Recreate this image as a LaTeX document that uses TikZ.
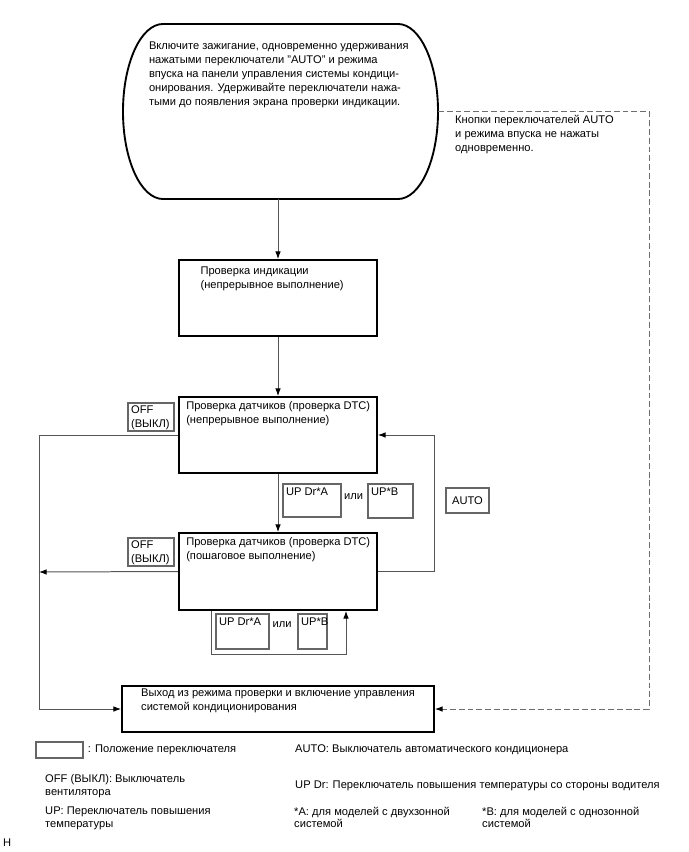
\documentclass[tikz,border=0pt]{standalone}
\usepackage{fontspec}
\setmainfont{Liberation Sans}
\usetikzlibrary{arrows.meta, positioning, calc}
\definecolor{flowline}{HTML}{555555}
\definecolor{keyline}{HTML}{666666}
\definecolor{dashline}{HTML}{6E6E6E}
\newcommand{\flowfont}{\fontsize{9.5}{12}\selectfont}
\newcommand{\legfont}{\fontsize{9.5}{11}\selectfont}
\tikzset{
  stepbox/.style={draw=black, line width=1.6pt, inner sep=0pt,
                  minimum width=5.94cm, minimum height=2.28cm},
  steptext/.style={anchor=north west, align=left, inner sep=0pt},
  keybox/.style={draw=keyline, line width=1.1pt, inner sep=0pt},
  keytext/.style={anchor=north west, align=left, inner sep=0pt, xshift=3pt, yshift=-4pt},
  legtext/.style={anchor=north west, align=left, inner sep=0pt, font=\legfont},
  arr/.style={-{Latex[length=6.5pt,width=4.8pt,color=black]}, line width=0.85pt, flowline},
  darr/.style={-{Latex[length=6.5pt,width=4.8pt,color=black]}, line width=0.85pt, dashline,
               dash pattern=on 5pt off 2.5pt},
}

\begin{document}
\begin{tikzpicture}[x=0.03cm, y=-0.03cm, every node/.style={font=\flowfont}]
  \useasboundingbox (0,0) rectangle (688,852);

  % start of the check
  \node[minimum width=9.45cm, minimum height=5.25cm, inner sep=0pt, outer sep=0pt,
        label={[steptext, xshift=22pt, yshift=-15pt]north west:Включите зажигание, одновременно удерживания\\нажатыми переключатели "AUTO" и режима\\впуска на панели управления системы кондици-\\онирования. Удерживайте переключатели нажа-\\тыми до появления экрана проверки индикации.}] (start) at (280.5,111.5) {};
  \draw[line width=1.6pt] ([xshift=1.2cm]start.north west) -- ([xshift=-1.2cm]start.north east)
    arc[start angle=90, end angle=-90, x radius=1.2cm, y radius=2.625cm]
    -- ([xshift=1.2cm]start.south west)
    arc[start angle=270, end angle=90, x radius=1.2cm, y radius=2.625cm] -- cycle;

  \node[align=left, anchor=north west, inner sep=0pt] (note) at (455,115) {Кнопки переключателей AUTO\\и режима впуска не нажаты\\одновременно.};

  % check steps
  \node[stepbox, label={[steptext, xshift=19pt, yshift=-6.4pt]north west:Проверка индикации\\(непрерывное выполнение)}] (check) at (278,298) {};
  \node[stepbox, label={[steptext, xshift=6.8pt, yshift=-4.7pt]north west:Проверка датчиков (проверка DTC)\\(непрерывное выполнение)}] (sensA) at (278,435) {};
  \node[stepbox, minimum height=2.31cm, label={[steptext, xshift=6.8pt, yshift=-4.7pt]north west:Проверка датчиков (проверка DTC)\\(пошаговое выполнение)}] (sensB) at (278,571.5) {};
  \node[stepbox, minimum width=9.36cm, minimum height=1.38cm, label={[steptext, xshift=17pt, yshift=-3pt]north west:Выход из режима проверки и включение управления\\системой кондиционирования}] (exit) at (278,709) {};

  % switches
  \node[keybox, minimum width=1.38cm, minimum height=0.84cm, label={[keytext, yshift=1.5pt]north west:OFF\\(ВЫКЛ)}] (offA) at (151,417) {};
  \node[keybox, minimum width=1.38cm, minimum height=0.84cm, label={[keytext, yshift=1.5pt]north west:OFF\\(ВЫКЛ)}] (offB) at (151,552) {};
  \node[keybox, minimum width=1.74cm, minimum height=0.99cm, label={[keytext]north west:UP Dr*A}] (upA1) at (312,500.5) {};
  \node (or1) at (353.5,497) {или};
  \node[keybox, minimum width=1.35cm, minimum height=1.02cm, label={[keytext]north west:UP*B}] (upB1) at (390.5,501) {};
  \node[keybox, minimum width=1.29cm, minimum height=0.75cm] (auto) at (467.5,500.5) {AUTO};
  \node[keybox, minimum width=1.59cm, minimum height=1.05cm, label={[keytext]north west:UP Dr*A}] (upA2) at (242.5,631.5) {};
  \node (or2) at (282,625) {или};
  \node[keybox, minimum width=0.87cm, minimum height=1.05cm, label={[keytext]north west:UP*B}] (upB2) at (312.5,631.5) {};

  \coordinate (railA) at (39,435);
  \coordinate (railB) at (39,572);
  \coordinate (loopR) at (434,435);
  \coordinate (loopBL) at (211,654);
  \coordinate (loopBR) at (346,654);
  \coordinate (dashR) at (649,111.5);

  \draw[arr] (start.south -| check.north) -- (check.north);
  \draw[arr] (check) -- (sensA);
  \draw[arr] (sensA) -- (sensB);
  \draw[arr] (sensA.west) -- (railA) |- (exit.west);
  \draw[arr] (sensB.west) -- (railB);
  \draw[arr] (sensB.east) -| (loopR) -- (sensA.east);
  \draw[arr] (sensB.south -| loopBL) -- (loopBL) -- (loopBR) -- (sensB.south -| loopBR);
  \draw[darr] (start.east) -- (dashR) |- (exit.east);

  % legend
  \node[keybox, minimum width=1.41cm, minimum height=0.48cm] (lgbox) at (59.5,750) {};
  \node[anchor=west, inner sep=0pt, right=3.4pt of lgbox] (lgkey) {: Положение переключателя};
  \node[anchor=west, inner sep=0pt] (lgauto) at (295,750) {AUTO: Выключатель автоматического кондиционера};
  \node[legtext] (lgoff) at (45,774.5) {OFF (ВЫКЛ): Выключатель\\вентилятора};
  \node[anchor=west, inner sep=0pt] (lgupdr) at (295,786) {UP Dr: Переключатель повышения температуры со стороны водителя};
  \node[legtext] (lgup) at (45,806.5) {UP: Переключатель повышения\\температуры};
  \node[legtext] (lga) at (294,806.5) {*A: для моделей с двухзонной\\системой};
  \node[legtext] (lgb) at (482,806.5) {*B: для моделей с однозонной\\системой};
  \node[anchor=west, inner sep=0pt] (mark) at (3,843) {H};
\end{tikzpicture}
\end{document}
